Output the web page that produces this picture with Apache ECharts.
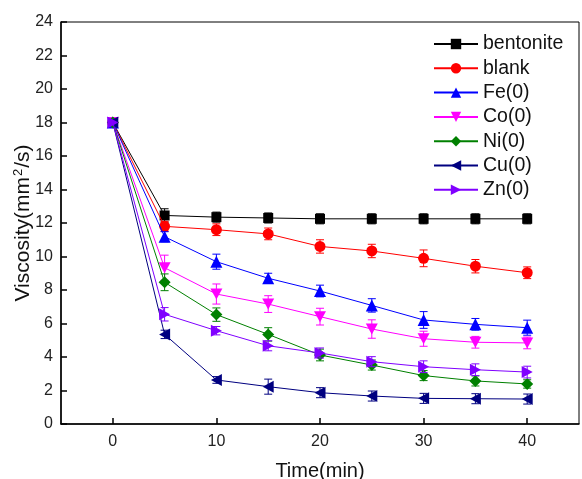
<!DOCTYPE html>
<html>
<head>
<meta charset="utf-8">
<script src="https://cdn.jsdelivr.net/npm/echarts@6/dist/echarts.min.js"></script>
<style>
  html, body { margin: 0; padding: 0; background: #fff; }
  #chart { width: 582px; height: 479px; }
</style>
</head>
<body>
<div id="chart"></div>
<script>
// Sampling times (min)
const times = [0, 5, 10, 15, 20, 25, 30, 35, 40];
const xTicks = [0, 10, 20, 30, 40];

// Viscosity (mm²/s) per sample and the half-width of its error bar
const bentonite    = [18, 12.45, 12.35, 12.3, 12.25, 12.25, 12.25, 12.25, 12.25];
const bentoniteErr = [0, 0.4, 0.3, 0.3, 0.3, 0.3, 0.3, 0.3, 0.3];
const blank        = [18, 11.8, 11.6, 11.35, 10.6, 10.33, 9.89, 9.42, 9.03];
const blankErr     = [0, 0.3, 0.35, 0.35, 0.4, 0.4, 0.5, 0.4, 0.35];
const fe           = [18, 11.18, 9.69, 8.7, 7.94, 7.08, 6.21, 5.95, 5.75];
const feErr        = [0, 0.3, 0.45, 0.3, 0.35, 0.4, 0.5, 0.35, 0.45];
const co           = [18, 9.33, 7.76, 7.16, 6.41, 5.67, 5.09, 4.88, 4.84];
const coErr        = [0, 0.75, 0.6, 0.5, 0.5, 0.55, 0.45, 0.35, 0.35];
const ni           = [18, 8.46, 6.53, 5.35, 4.12, 3.52, 2.89, 2.57, 2.39];
const niErr        = [0, 0.5, 0.4, 0.4, 0.35, 0.3, 0.3, 0.3, 0.25];
const cu           = [18, 5.35, 2.63, 2.23, 1.87, 1.67, 1.53, 1.51, 1.49];
const cuErr        = [0, 0.25, 0.2, 0.45, 0.3, 0.3, 0.3, 0.3, 0.3];
const zn           = [18, 6.55, 5.57, 4.67, 4.24, 3.72, 3.42, 3.24, 3.1];
const znErr        = [0, 0.4, 0.25, 0.3, 0.3, 0.3, 0.35, 0.35, 0.35];

const groups = [
  { name: 'bentonite', values: bentonite, err: bentoniteErr, color: '#000000', symbol: 'rect', size: 10 },
  { name: 'blank', values: blank, err: blankErr, color: '#ff0000', symbol: 'circle', size: 11 },
  { name: 'Fe(0)', values: fe, err: feErr, color: '#0000ff', symbol: 'triangle', size: 12 },
  { name: 'Co(0)', values: co, err: coErr, color: '#ff00ff', symbol: 'path://M0,0 L10,0 L5,9 Z', size: [12, 11] },
  { name: 'Ni(0)', values: ni, err: niErr, color: '#008000', symbol: 'diamond', size: 12 },
  { name: 'Cu(0)', values: cu, err: cuErr, color: '#000080', symbol: 'path://M0,5 L9,0 L9,10 Z', size: [11, 12] },
  { name: 'Zn(0)', values: zn, err: znErr, color: '#8000ff', symbol: 'path://M0,0 L9,5 L0,10 Z', size: [11, 12] }
];

const FONT = 'Liberation Sans, Arial, sans-serif';

// Vertical error bar with short caps, drawn under each series' markers
function errorBarSeries(g, idx) {
  const data = times.map((t, i) => [t, g.values[i] - g.err[i], g.values[i] + g.err[i]]);
  return {
    type: 'custom',
    name: g.name + ' error',
    z: 2 + idx * 2,
    silent: true,
    data: data,
    encode: { x: 0, y: [1, 2] },
    renderItem: function (params, api) {
      if (api.value(2) - api.value(1) <= 0) return;
      const lo = api.coord([api.value(0), api.value(1)]);
      const hi = api.coord([api.value(0), api.value(2)]);
      const w = 4;
      const style = { stroke: g.color, lineWidth: 1 };
      return {
        type: 'group',
        children: [
          { type: 'line', shape: { x1: lo[0], y1: lo[1], x2: hi[0], y2: hi[1] }, style: style },
          { type: 'line', shape: { x1: lo[0] - w, y1: lo[1], x2: lo[0] + w, y2: lo[1] }, style: style },
          { type: 'line', shape: { x1: hi[0] - w, y1: hi[1], x2: hi[0] + w, y2: hi[1] }, style: style }
        ]
      };
    }
  };
}

const series = [];
groups.forEach((g, idx) => {
  series.push(errorBarSeries(g, idx));
  series.push({
    type: 'line',
    name: g.name,
    z: 3 + idx * 2,
    data: times.map((t, i) => [t, g.values[i]]),
    symbol: g.symbol,
    symbolSize: g.size,
    showAllSymbol: true,
    lineStyle: { color: g.color, width: 1 },
    itemStyle: { color: g.color },
    emphasis: { disabled: true },
    animation: false
  });
});

const chart = echarts.init(document.getElementById('chart'), null, { renderer: 'canvas' });
chart.setOption({
  animation: false,
  backgroundColor: '#ffffff',
  grid: {
    left: 61, top: 22, right: 3, bottom: 55,
    outerBoundsMode: 'none',
    containLabel: false,
    show: true, borderColor: '#000', borderWidth: 1
  },
  legend: {
    data: groups.map(g => g.name),
    orient: 'vertical',
    left: 433,
    top: 34,
    padding: 0,
    itemWidth: 44,
    itemHeight: 13,
    itemGap: 4.3,
    textStyle: { fontFamily: FONT, fontSize: 19.5, lineHeight: 20, color: '#111' },
    selectedMode: false
  },
  xAxis: {
    type: 'value',
    min: -5,
    max: 45,
    name: 'Time(min)',
    nameLocation: 'middle',
    nameMoveOverlap: false,
    nameGap: 37,
    nameTextStyle: { fontFamily: FONT, fontSize: 20, color: '#111' },
    axisLine: { show: true, onZero: false, lineStyle: { color: '#000', width: 1.5 } },
    axisTick: { show: true, inside: true, length: 6, customValues: xTicks, lineStyle: { color: '#000', width: 1.5 } },
    axisLabel: { customValues: xTicks, fontFamily: FONT, fontSize: 16, color: '#222', margin: 10 },
    splitLine: { show: false }
  },
  yAxis: {
    type: 'value',
    min: 0,
    max: 24,
    interval: 2,
    name: '{a|Viscosity(mm}{s|2}{a|/s)}',
    nameLocation: 'middle',
    nameMoveOverlap: false,
    nameGap: 27,
    nameTextStyle: {
      fontFamily: FONT, fontSize: 21, color: '#111',
      rich: {
        a: { fontFamily: FONT, fontSize: 21, color: '#111' },
        s: { fontFamily: FONT, fontSize: 13, color: '#111', verticalAlign: 'top', padding: [0, 1, 9, 1] }
      }
    },
    axisLine: { show: true, onZero: false, lineStyle: { color: '#000', width: 1.5 } },
    axisTick: { show: true, inside: true, length: 6, lineStyle: { color: '#000', width: 1.5 } },
    axisLabel: { fontFamily: FONT, fontSize: 16, color: '#222', margin: 8 },
    splitLine: { show: false }
  },
  series: series
});
</script>
</body>
</html>
